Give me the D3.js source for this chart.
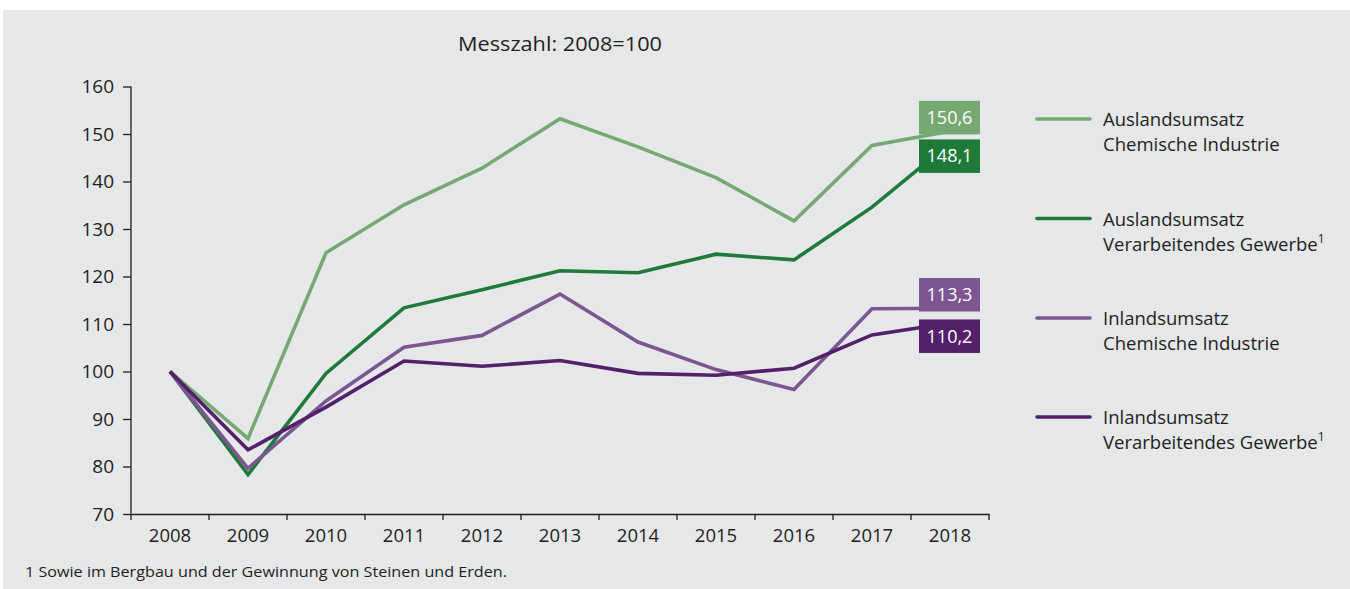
<!DOCTYPE html>
<html><head><meta charset="utf-8">
<script src="https://cdn.jsdelivr.net/npm/d3@7"></script>
<style>
html,body{margin:0;padding:0;background:#fff;}
svg text{font-family:"Open Sans","Noto Sans",sans-serif;fill:#231f20;}
</style></head>
<body>
<svg id="chart" width="1350" height="589"></svg>
<script>
const years = ["2008","2009","2010","2011","2012","2013","2014","2015","2016","2017","2018"];
const auslandChemie = [100, 85.9, 125.0, 135.1, 142.8, 153.2, 147.3, 140.8, 131.7, 147.6, 150.6];
const auslandGewerbe = [100, 78.3, 99.6, 113.4, 117.2, 121.2, 120.8, 124.7, 123.5, 134.6, 148.1];
const inlandChemie = [100, 79.6, 93.8, 105.1, 107.6, 116.3, 106.2, 100.4, 96.2, 113.2, 113.3];
const inlandGewerbe = [100, 83.5, 92.5, 102.2, 101.1, 102.3, 99.6, 99.2, 100.7, 107.7, 110.2];
const seriesNames = [["Auslandsumsatz","Chemische Industrie",false],["Auslandsumsatz","Verarbeitendes Gewerbe",true],["Inlandsumsatz","Chemische Industrie",false],["Inlandsumsatz","Verarbeitendes Gewerbe",true]];
const seriesColors = ["#76a872","#1f7a3a","#7b5690","#54206a"];
const endLabels = ["150,6","148,1","113,3","110,2"];
const yTicks = [70,80,90,100,110,120,130,140,150,160];
const title = "Messzahl: 2008=100";
const footnote = "1 Sowie im Bergbau und der Gewinnung von Steinen und Erden.";

const allSeries = [auslandChemie, auslandGewerbe, inlandChemie, inlandGewerbe];
const svg = d3.select("#chart");
svg.append("rect").attr("x",3).attr("y",10).attr("width",1347).attr("height",579).attr("fill","#e6e7e9");

const x = d3.scaleBand().domain(years).range([131, 989]);
const y = d3.scaleLinear().domain([70,160]).range([514, 86.5]);
const xc = d => x(d) + x.bandwidth()/2;

// y axis
const gy = svg.append("g").attr("transform","translate(131,0)")
  .call(d3.axisLeft(y).tickValues(yTicks).tickSize(8).tickPadding(9).tickFormat(d3.format("d")));
gy.select(".domain").attr("stroke","#231f20").attr("stroke-width",1.3).attr("d","M0,86.5V514");
gy.selectAll(".tick line").attr("stroke","#231f20").attr("stroke-width",1.3);
gy.selectAll(".tick text").attr("font-size",19).attr("font-family","'Open Sans',sans-serif").attr("fill","#231f20").attr("dy","0.34em");

// x axis
const gx = svg.append("g").attr("transform","translate(0,514)")
  .call(d3.axisBottom(x).tickSize(0).tickPadding(15));
gx.select(".domain").attr("stroke","#231f20").attr("stroke-width",1.3);
gx.selectAll(".tick text").attr("font-size",18.5).attr("font-family","'Open Sans',sans-serif").attr("fill","#231f20")
  .attr("dy","0.71em");
// boundary ticks
const bounds = years.map(d => x(d)).concat([x(years[years.length-1]) + x.bandwidth()]);
svg.append("g").selectAll("line").data(bounds).join("line")
  .attr("x1",d=>d).attr("x2",d=>d).attr("y1",514).attr("y2",520)
  .attr("stroke","#231f20").attr("stroke-width",1.3);

// title
svg.append("text").attr("x",560).attr("y",51).attr("text-anchor","middle").attr("font-size",20)
  .attr("textLength",204).attr("lengthAdjust","spacingAndGlyphs").text(title);

// lines
const line = d3.line().x((d,i)=>xc(years[i])).y(d=>y(d));
svg.append("g").selectAll("path").data(allSeries).join("path")
  .attr("d", line).attr("fill","none").attr("stroke",(d,i)=>seriesColors[i])
  .attr("stroke-width",3.6).attr("stroke-linejoin","miter");

// end labels
const boxW = 61, boxH = 33.5;
const placeAbove = [true,false,true,false];
const gl = svg.append("g");
allSeries.forEach((s,i)=>{
  const last = s[s.length-1];
  const py = y(last);
  const top = placeAbove[i] ? py + 3.2 - boxH : py - 3.6;
  const bx = xc(years[years.length-1]) - 31;
  gl.append("rect").attr("x",bx).attr("y",top).attr("width",boxW).attr("height",boxH).attr("fill",seriesColors[i]);
  gl.append("text").attr("x",bx+boxW/2).attr("y",top+boxH/2).attr("dy","0.35em").attr("text-anchor","middle")
    .attr("font-size",18).style("fill","#fff").text(endLabels[i]);
});

// legend
const legTop = [119, 218.5, 318, 417];
const lg = svg.append("g");
seriesNames.forEach((n,i)=>{
  const ly = legTop[i];
  lg.append("line").attr("x1",1037).attr("x2",1090).attr("y1",ly).attr("y2",ly)
    .attr("stroke",seriesColors[i]).attr("stroke-width",3.6).attr("stroke-linecap","round");
  lg.append("text").attr("x",1103).attr("y",ly+7).attr("font-size",18.5).text(n[0]);
  const t2 = lg.append("text").attr("x",1103).attr("y",ly+32).attr("font-size",18.5).text(n[1]);
  if (n[2]) t2.append("tspan").attr("dy",-8).attr("font-size",12).text("1");
});

// footnote
svg.append("text").attr("x",25).attr("y",577).attr("font-size",14.5)
  .attr("textLength",482).attr("lengthAdjust","spacingAndGlyphs").text(footnote);
</script>
</body></html>
